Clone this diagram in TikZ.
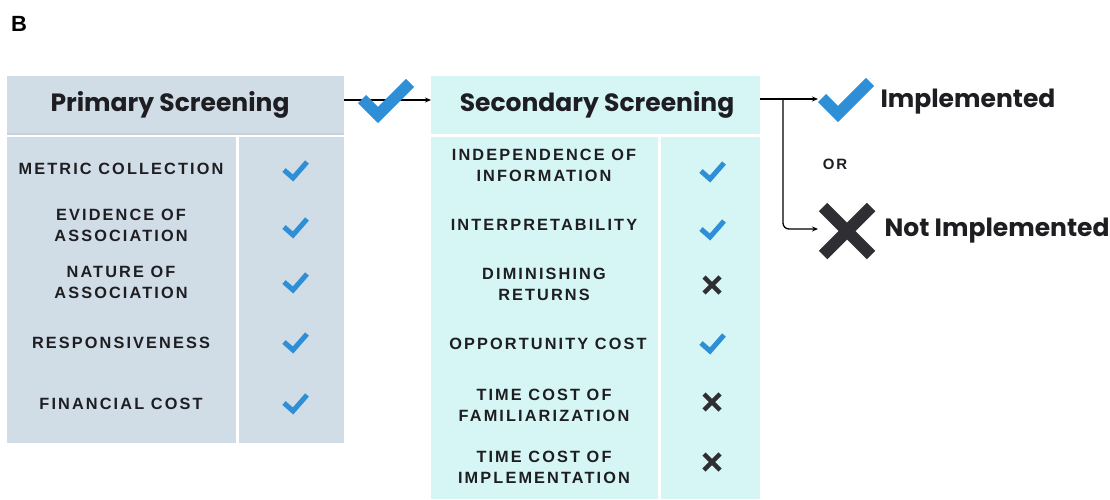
\documentclass[tikz,border=0pt]{standalone}
\usepackage{fontspec}
\setmainfont{Liberation Sans}
\newfontfamily\headfont{Poppins}
\newfontfamily\capsfont{Liberation Sans}[LetterSpace=13]
\usetikzlibrary{arrows.meta}
\definecolor{prim}{HTML}{D0DCE6}
\definecolor{sec}{HTML}{D6F5F5}
\definecolor{chkblue}{HTML}{2E8FD6}
\definecolor{xdark}{HTML}{2E2E33}
\definecolor{txt}{HTML}{1E1E22}
\tikzset{
  head/.style={font=\headfont\bfseries\fontsize{25}{28}\selectfont, text=txt},
  item/.style={font=\capsfont\bfseries\fontsize{16.3}{21}\selectfont, text=txt, align=center},
  chk/.pic={\draw[chkblue, line width=5pt, line join=miter] (-11,1)--(-2,9)--(12,-7);},
  bigchk/.pic={\draw[chkblue, line width=11.5pt, line join=miter] (-24,-1)--(-8,15)--(24,-17);},
  xm/.pic={\draw[xdark, line width=4.5pt] (-8,-8)--(8,8) (-8,8)--(8,-8);},
  bigxm/.pic={\draw[xdark, line width=12pt] (-24,-24)--(24,24) (-24,24)--(24,-24);},
  conn/.style={black, line width=1.3pt, -{Stealth[length=6pt,width=5pt]}},
}
\begin{document}
\begin{tikzpicture}[x=1pt,y=-1pt]
\useasboundingbox (0,0) rectangle (1110,499);
% B label
\node[font=\bfseries\fontsize{22}{24}\selectfont, anchor=center] (B) at (19,24) {B};
% primary
\fill[prim] (7,76) rectangle (344,134);
\fill[prim!95!black] (7,133) rectangle (344,134.5);
\fill[prim] (7,137) rectangle (236,443);
\fill[prim] (239,137) rectangle (344,443);
\node[head] (ph) at (170,105) {Primary Screening};
% secondary
\fill[sec] (431,76) rectangle (760,134);
\fill[sec] (431,137) rectangle (658,499);
\fill[sec] (661,137) rectangle (760,499);
\node[head] (sh) at (597,105) {Secondary Screening};
% primary items
\node[item] (p1) at (121,169) {METRIC COLLECTION};
\node[item] (p2) at (121,225) {EVIDENCE OF\\ASSOCIATION};
\node[item] (p3) at (121,282) {NATURE OF\\ASSOCIATION};
\node[item] (p4) at (121,343) {RESPONSIVENESS};
\node[item] (p5) at (121,404) {FINANCIAL COST};
\pic (pc1) at (295,169) {chk};
\pic (pc2) at (295,226) {chk};
\pic (pc3) at (295,281) {chk};
\pic (pc4) at (295,341) {chk};
\pic (pc5) at (295,402) {chk};
% secondary items
\node[item] (s1) at (544,165) {INDEPENDENCE OF\\INFORMATION};
\node[item] (s2) at (544,225) {INTERPRETABILITY};
\node[item] (s3) at (544,284) {DIMINISHING\\RETURNS};
\node[item] (s4) at (548,344) {OPPORTUNITY COST};
\node[item] (s5) at (544,405) {TIME COST OF\\FAMILIARIZATION};
\node[item] (s6) at (544,467) {TIME COST OF\\IMPLEMENTATION};
\pic (sc1) at (712,170) {chk};
\pic (sc2) at (712,228) {chk};
\pic (sx3) at (712,285) {xm};
\pic (sc4) at (712,342) {chk};
\pic (sx5) at (712,402) {xm};
\pic (sx6) at (712,462) {xm};
% connectors
\coordinate (a0) at (344,100);
\coordinate (a1) at (431,100);
\draw[conn] (a0) -- (a1);
\pic (bc) at (386,100) {bigchk};
\coordinate (b0) at (760,99);
\coordinate (b1) at (818,99);
\coordinate (bs) at (783,99);
\coordinate (b2) at (818,229);
\draw[conn] (b0) -- (b1);
\draw[conn, rounded corners=6pt] (bs) |- (b2);
\pic (ic) at (846,99) {bigchk};
\pic (nx) at (847,231) {bigxm};
\node[head, anchor=west] (impl) at (877,102) {Implemented};
\node[head, anchor=west] (nimpl) at (881,231) {Not Implemented};
\node[item, font=\capsfont\bfseries\fontsize{15}{16}\selectfont] (or) at (835,164) {OR};
\end{tikzpicture}
\end{document}
